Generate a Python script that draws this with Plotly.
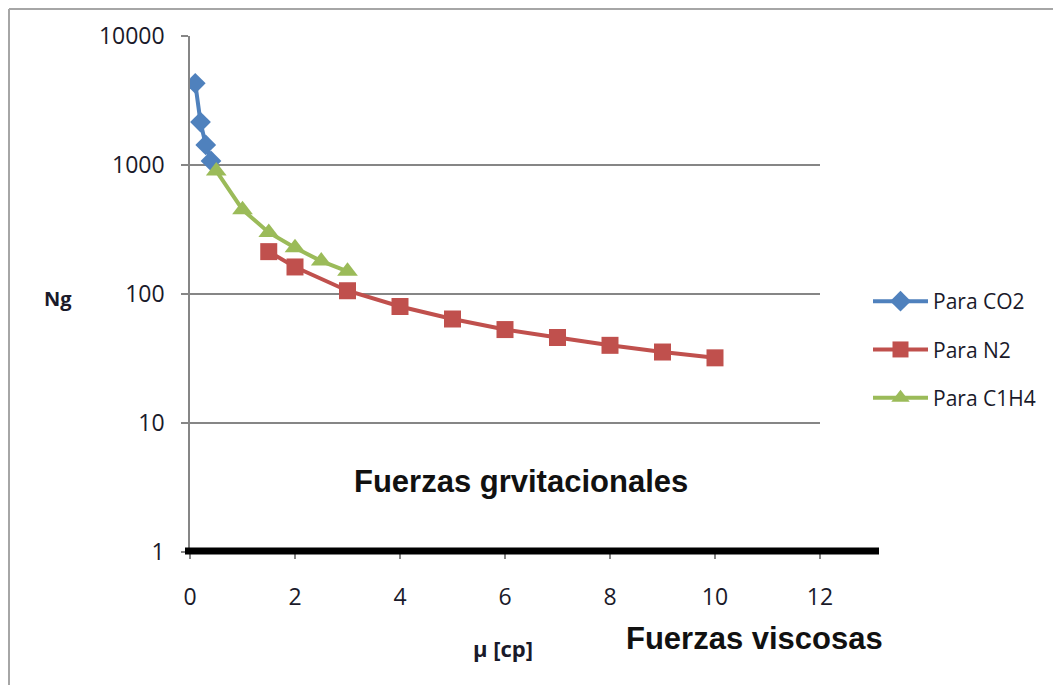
import plotly.graph_objects as go

# Data
co2_x = [0.1, 0.2, 0.3, 0.4]
co2_y = [4300, 2150, 1430, 1075]
n2_x = [1.5, 2, 3, 4, 5, 6, 7, 8, 9, 10]
n2_y = [213, 162, 106, 80, 64, 53, 46, 40, 35.5, 32]
ch4_x = [0.5, 1.0, 1.5, 2.0, 2.5, 3.0]
ch4_y = [900, 450, 300, 228, 180, 150]

x_ticks = [0, 2, 4, 6, 8, 10, 12]
y_ticks = [1, 10, 100, 1000, 10000]
y_ticktext = ["1", "10", "100", "1000", "10000"]

# page body has an 8px margin: work in screen pixels, shift by OFF
OFF = 8
W, H = 1045, 677
L, R, T, B = 190, 820, 36, 552  # screen pixels of the plot area

def px(xp):
    return (xp - L) / (R - L)

def py(yp):
    return (B - yp) / (B - T)

fig = go.Figure()
fig.add_trace(go.Scatter(x=co2_x, y=co2_y, mode="lines+markers", name="Para CO2",
                         legendgroup="a",
                         line=dict(color="#4F81BD", width=4),
                         marker=dict(symbol="diamond", size=16, color="#4F81BD")))
fig.add_trace(go.Scatter(x=n2_x, y=n2_y, mode="lines+markers", name="Para N2",
                         legendgroup="b",
                         line=dict(color="#C0504D", width=4),
                         marker=dict(symbol="square", size=17, color="#C0504D")))
fig.add_trace(go.Scatter(x=ch4_x, y=ch4_y, mode="lines+markers", name="Para C1H4",
                         legendgroup="c",
                         line=dict(color="#9BBB59", width=4),
                         marker=dict(symbol="triangle-up", size=18, color="#9BBB59")))

tickfont = dict(family="Open Sans, Noto Sans, sans-serif", size=23, color="#1a1a2a")

fig.update_layout(
    width=W, height=H,
    margin=dict(l=L - OFF, r=W - (R - OFF), t=T - OFF, b=H - (B - OFF), pad=0),
    paper_bgcolor="white", plot_bgcolor="white",
    showlegend=True,
    legend=dict(x=px(868), y=py(281), xanchor="left", yanchor="top",
                font=dict(family="Open Sans, Noto Sans, sans-serif", size=21, color="#1a1a2a"),
                tracegroupgap=18, itemwidth=55, bgcolor="rgba(0,0,0,0)"),
    xaxis=dict(range=[0, 12], tickvals=x_ticks, ticks="outside", ticklen=6,
               tickcolor="#868686", tickwidth=1.5, showgrid=False, zeroline=False,
               showline=False, tickfont=tickfont, ticklabelstandoff=18),
    yaxis=dict(type="log", range=[0, 4], tickvals=y_ticks, ticktext=y_ticktext,
               ticks="outside", ticklen=7, tickcolor="#868686", tickwidth=1.5,
               showgrid=True, gridcolor="#868686", gridwidth=1.5,
               showline=True, linecolor="#868686", linewidth=1.5,
               zeroline=False, tickfont=tickfont, ticklabelstandoff=12),
)

# chart-area frame (top and left edges visible in the crop)
fig.add_shape(type="line", xref="paper", yref="paper",
              x0=px(9), x1=px(1053), y0=py(9), y1=py(9),
              line=dict(color="#A6A6A6", width=2), layer="below")
fig.add_shape(type="line", xref="paper", yref="paper",
              x0=px(9), x1=px(9), y0=py(9), y1=py(685),
              line=dict(color="#A6A6A6", width=2), layer="below")
# thick black baseline
fig.add_shape(type="line", xref="paper", yref="paper",
              x0=px(185), x1=px(879), y0=py(551), y1=py(551),
              line=dict(color="black", width=7))

def label(text, xs, ys, size, family, color):
    fig.add_annotation(text=text, xref="paper", yref="paper",
                       x=px(xs), y=py(ys), xanchor="center", yanchor="middle",
                       showarrow=False,
                       font=dict(family=family, size=size, color=color))

label("<b>Fuerzas grvitacionales</b>", 521, 481, 31, "Liberation Sans, Arial", "#111111")
label("<b>Fuerzas viscosas</b>", 754, 638, 31, "Liberation Sans, Arial", "#111111")
label("<b>μ [cp]</b>", 503, 648, 22, "Open Sans, Noto Sans", "#1a1a2a")
label("<b>Ng</b>", 58, 298, 20, "Open Sans, Noto Sans", "#1a1a2a")

fig.write_html("out.html")
